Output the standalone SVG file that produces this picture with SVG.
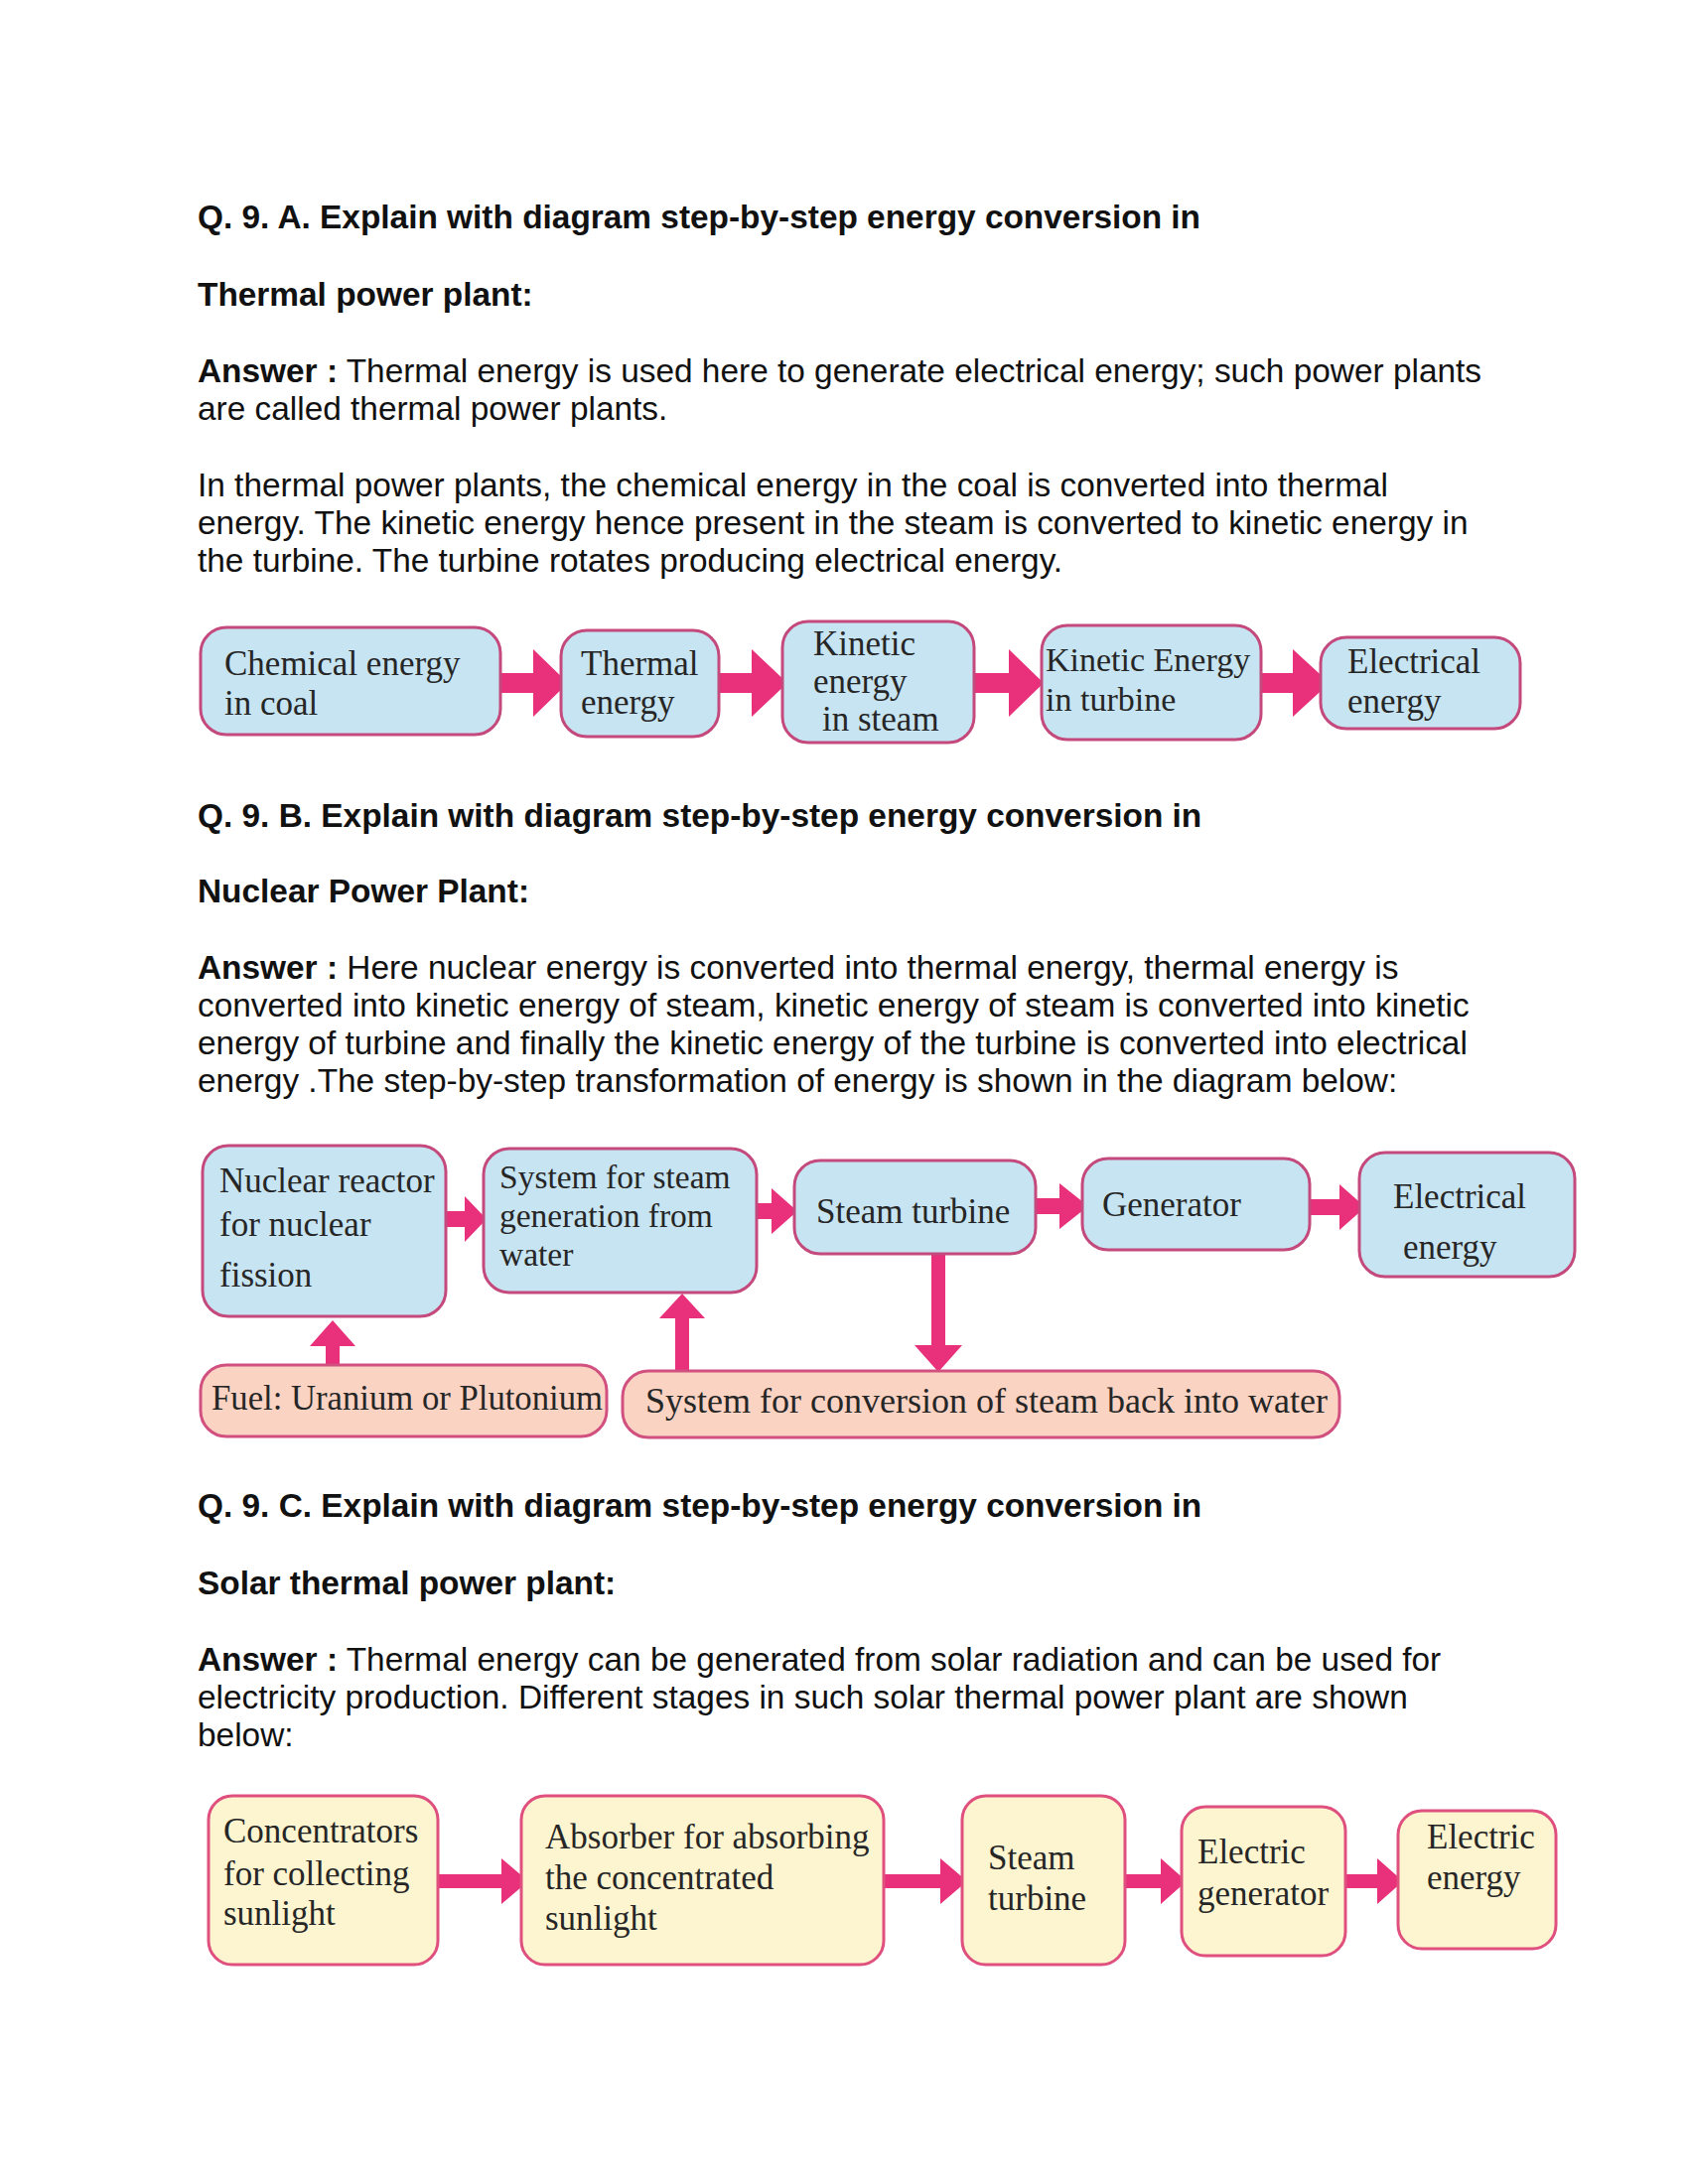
<svg xmlns="http://www.w3.org/2000/svg" width="1700" height="2200" viewBox="0 0 1700 2200">
<style>
.body{font-family:"Liberation Sans",Arial,sans-serif;font-size:33.4px;fill:#111}
.b{font-weight:bold}
.lbl{font-family:"Liberation Serif","Times New Roman",serif;font-size:35px;fill:#262626}
.sm{font-size:34px}
.xs{font-size:33.5px}
.blue{fill:#c7e4f2;stroke:#c4497c;stroke-width:3}
.peach{fill:#fbd3c3;stroke:#d2507f;stroke-width:3}
.yellow{fill:#fdf5d0;stroke:#e0507f;stroke-width:3}
.arr{fill:#e8307b;stroke:none}
</style>
<rect width="1700" height="2200" fill="#ffffff"/>

<g id="text">
<text class="body b" x="199" y="230">Q. 9. A. Explain with diagram step-by-step energy conversion in</text>
<text class="body b" x="199" y="308">Thermal power plant:</text>
<text class="body" x="199" y="385"><tspan class="b">Answer :</tspan> Thermal energy is used here to generate electrical energy; such power plants</text>
<text class="body" x="199" y="423">are called thermal power plants.</text>
<text class="body" x="199" y="500">In thermal power plants, the chemical energy in the coal is converted into thermal</text>
<text class="body" x="199" y="538">energy. The kinetic energy hence present in the steam is converted to kinetic energy in</text>
<text class="body" x="199" y="576">the turbine. The turbine rotates producing electrical energy.</text>

<text class="body b" x="199" y="833">Q. 9. B. Explain with diagram step-by-step energy conversion in</text>
<text class="body b" x="199" y="909">Nuclear Power Plant:</text>
<text class="body" x="199" y="986"><tspan class="b">Answer :</tspan> Here nuclear energy is converted into thermal energy, thermal energy is</text>
<text class="body" x="199" y="1024">converted into kinetic energy of steam, kinetic energy of steam is converted into kinetic</text>
<text class="body" x="199" y="1062">energy of turbine and finally the kinetic energy of the turbine is converted into electrical</text>
<text class="body" x="199" y="1100">energy .The step-by-step transformation of energy is shown in the diagram below:</text>

<text class="body b" x="199" y="1528">Q. 9. C. Explain with diagram step-by-step energy conversion in</text>
<text class="body b" x="199" y="1606">Solar thermal power plant:</text>
<text class="body" x="199" y="1683"><tspan class="b">Answer :</tspan> Thermal energy can be generated from solar radiation and can be used for</text>
<text class="body" x="199" y="1721">electricity production. Different stages in such solar thermal power plant are shown</text>
<text class="body" x="199" y="1759">below:</text>
</g>

<g id="connectors">
<!-- Diagram A -->
<polygon class="arr" points="504,678 537,678 537,654 572,688 537,722 537,698 504,698"/>
<polygon class="arr" points="724,678 757,678 757,654 793,688 757,722 757,698 724,698"/>
<polygon class="arr" points="981,678 1016,678 1016,654 1051,688 1016,722 1016,698 981,698"/>
<polygon class="arr" points="1270,678 1302,678 1302,654 1339,688 1302,722 1302,698 1270,698"/>
<!-- Diagram B -->
<polygon class="arr" points="449,1220 468,1220 468,1205 490,1228 468,1251 468,1236 449,1236"/>
<polygon class="arr" points="762,1212 777,1212 777,1197 803,1220 777,1243 777,1228 762,1228"/>
<polygon class="arr" points="1043,1207 1067,1207 1067,1192 1096,1215 1067,1238 1067,1223 1043,1223"/>
<polygon class="arr" points="1319,1208 1349,1208 1349,1193 1375,1216 1349,1239 1349,1224 1319,1224"/>
<polygon class="arr" points="328,1376 328,1356 312,1356 335,1330 358,1356 342,1356 342,1376"/>
<polygon class="arr" points="680,1382 680,1328 664,1328 687,1303 710,1328 694,1328 694,1382"/>
<polygon class="arr" points="938,1263 952,1263 952,1355 969,1355 945,1382 921,1355 938,1355"/>
<!-- Diagram C -->
<polygon class="arr" points="441,1888 505,1888 505,1872 532,1895 505,1918 505,1902 441,1902"/>
<polygon class="arr" points="890,1888 947,1888 947,1872 974,1895 947,1918 947,1902 890,1902"/>
<polygon class="arr" points="1133,1888 1169,1888 1169,1872 1195,1895 1169,1918 1169,1902 1133,1902"/>
<polygon class="arr" points="1355,1888 1387,1888 1387,1872 1413,1895 1387,1918 1387,1902 1355,1902"/>
</g>

<!-- Diagram A nodes -->
<g id="a-chemical">
<rect class="blue" x="202" y="632" width="302" height="108" rx="26"/>
<text class="lbl" x="226" y="680">Chemical energy</text>
<text class="lbl" x="226" y="720">in coal</text>
</g>
<g id="a-thermal">
<rect class="blue" x="565" y="635" width="159" height="107" rx="26"/>
<text class="lbl" x="585" y="680">Thermal</text>
<text class="lbl" x="585" y="719">energy</text>
</g>
<g id="a-kinetic-steam">
<rect class="blue" x="788" y="626" width="193" height="122" rx="26"/>
<text class="lbl" x="819" y="660">Kinetic</text>
<text class="lbl" x="819" y="698">energy</text>
<text class="lbl" x="828" y="736">in steam</text>
</g>
<g id="a-kinetic-turbine">
<rect class="blue" x="1049" y="630" width="221" height="115" rx="26"/>
<text class="lbl sm" x="1053" y="676">Kinetic Energy</text>
<text class="lbl sm" x="1053" y="716">in turbine</text>
</g>
<g id="a-electrical">
<rect class="blue" x="1330" y="642" width="201" height="92" rx="26"/>
<text class="lbl" x="1357" y="678">Electrical</text>
<text class="lbl" x="1357" y="718">energy</text>
</g>

<!-- Diagram B nodes -->
<g id="b-reactor">
<rect class="blue" x="204" y="1154" width="245" height="172" rx="26"/>
<text class="lbl" x="221" y="1201">Nuclear reactor</text>
<text class="lbl" x="221" y="1245">for nuclear</text>
<text class="lbl" x="221" y="1296">fission</text>
</g>
<g id="b-steamgen">
<rect class="blue" x="487" y="1157" width="275" height="145" rx="26"/>
<text class="lbl xs" x="503" y="1197">System for steam</text>
<text class="lbl xs" x="503" y="1236">generation from</text>
<text class="lbl xs" x="503" y="1275">water</text>
</g>
<g id="b-turbine">
<rect class="blue" x="800" y="1169" width="243" height="94" rx="26"/>
<text class="lbl" x="822" y="1232">Steam turbine</text>
</g>
<g id="b-generator">
<rect class="blue" x="1090" y="1167" width="229" height="92" rx="26"/>
<text class="lbl" x="1110" y="1225">Generator</text>
</g>
<g id="b-electrical">
<rect class="blue" x="1369" y="1161" width="217" height="125" rx="26"/>
<text class="lbl" x="1403" y="1217">Electrical</text>
<text class="lbl" x="1413" y="1268">energy</text>
</g>
<g id="b-fuel">
<rect class="peach" x="202" y="1375" width="409" height="72" rx="26"/>
<text class="lbl" x="213" y="1420" textLength="394" lengthAdjust="spacingAndGlyphs">Fuel: Uranium or Plutonium</text>
</g>
<g id="b-condense">
<rect class="peach" x="627" y="1381" width="722" height="67" rx="26"/>
<text class="lbl" x="650" y="1423" textLength="687" lengthAdjust="spacingAndGlyphs">System for conversion of steam back into water</text>
</g>

<!-- Diagram C nodes -->
<g id="c-concentrators">
<rect class="yellow" x="210" y="1809" width="231" height="170" rx="24"/>
<text class="lbl" x="225" y="1856">Concentrators</text>
<text class="lbl" x="225" y="1899">for collecting</text>
<text class="lbl" x="225" y="1939">sunlight</text>
</g>
<g id="c-absorber">
<rect class="yellow" x="525" y="1809" width="365" height="170" rx="24"/>
<text class="lbl" x="549" y="1862">Absorber for absorbing</text>
<text class="lbl" x="549" y="1903">the concentrated</text>
<text class="lbl" x="549" y="1944">sunlight</text>
</g>
<g id="c-turbine">
<rect class="yellow" x="969" y="1809" width="164" height="170" rx="24"/>
<text class="lbl" x="995" y="1883">Steam</text>
<text class="lbl" x="995" y="1924">turbine</text>
</g>
<g id="c-generator">
<rect class="yellow" x="1190" y="1820" width="165" height="150" rx="24"/>
<text class="lbl" x="1206" y="1877">Electric</text>
<text class="lbl" x="1206" y="1919">generator</text>
</g>
<g id="c-energy">
<rect class="yellow" x="1408" y="1824" width="159" height="139" rx="24"/>
<text class="lbl" x="1437" y="1862">Electric</text>
<text class="lbl" x="1437" y="1903">energy</text>
</g>
</svg>
